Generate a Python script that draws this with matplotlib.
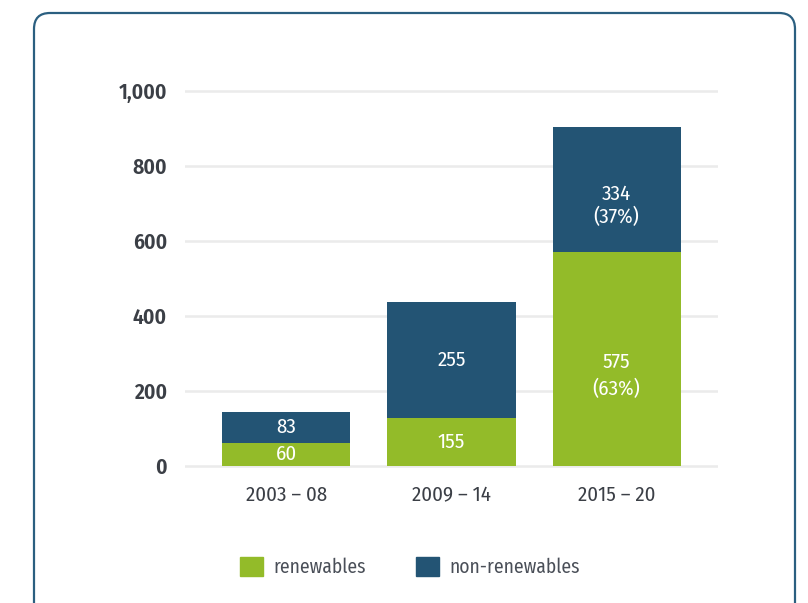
import matplotlib
matplotlib.use("Agg")
import matplotlib.pyplot as plt
from matplotlib.patches import FancyBboxPatch, Patch
from matplotlib.transforms import IdentityTransform, offset_copy

plt.rcParams['font.family'] = ['Fira Sans Condensed', 'DejaVu Sans']

# data (bar heights, labels as printed)
periods = ["2003 – 08", "2009 – 14", "2015 – 20"]
renewables = [62, 128, 570]
non_renewables = [81, 310, 335]
renew_labels = ["60", "155", "575\n(63%)"]
nonrenew_labels = ["83", "255", "334\n(37%)"]
yticks = [0, 200, 400, 600, 800, 1000]

GREEN = "#93bb29"
BLUE = "#235474"
TEXT = "#3b3f46"

fig = plt.figure(figsize=(8.08, 6.03), dpi=100)
ax = fig.add_axes([0.229, 0.224, 0.66, 0.6375])

x = range(len(periods))
ax.bar(x, renewables, width=0.776, color=GREEN, zorder=2)
ax.bar(x, non_renewables, width=0.776, bottom=renewables, color=BLUE, zorder=2)

# value labels inside the segments (last bar's labels sit a bit lower)
shift = [0, 0, -12]
for i in x:
    r, n = renewables[i], non_renewables[i]
    tr = offset_copy(ax.transData, fig=fig, y=shift[i], units="points")
    ax.text(i, r / 2, renew_labels[i], ha="center", va="center", color="white",
            fontsize=15, linespacing=1.45, transform=tr)
    ax.text(i, r + n / 2, nonrenew_labels[i], ha="center", va="center", color="white",
            fontsize=15, linespacing=1.2, transform=tr)

ax.set_xlim(-0.612, 2.615)
ax.set_ylim(-5, 1020)
ax.set_yticks(yticks)
ax.set_yticklabels([f"{v:,}" for v in yticks], fontweight="semibold")
ax.set_xticks(list(x))
ax.set_xticklabels(periods)
ax.tick_params(axis="y", length=0, pad=13, labelsize=15.5, labelcolor=TEXT)
ax.tick_params(axis="x", length=0, pad=13, labelsize=15, labelcolor=TEXT)
for s in ax.spines.values():
    s.set_visible(False)
ax.yaxis.grid(True, color="#ebebeb", linewidth=1.8, zorder=0)
ax.set_axisbelow(True)

# legend
handles = [Patch(color=GREEN, label="renewables"), Patch(color=BLUE, label="non-renewables")]
fig.legend(handles=handles, loc="center", bbox_to_anchor=(0.507, 0.06), ncol=2,
           frameon=False, fontsize=14, handlelength=1.2, handleheight=1.2,
           handletextpad=0.5, columnspacing=2.6, labelcolor="#4a4f58")

# rounded frame round the chart (pixel coordinates)
frame = FancyBboxPatch((34, -30), 761, 620, boxstyle="round,pad=0,rounding_size=16",
                       transform=IdentityTransform(), facecolor="none",
                       edgecolor="#2b5f80", linewidth=1.6)
fig.patches.append(frame)

fig.savefig("out.png", dpi=100)
